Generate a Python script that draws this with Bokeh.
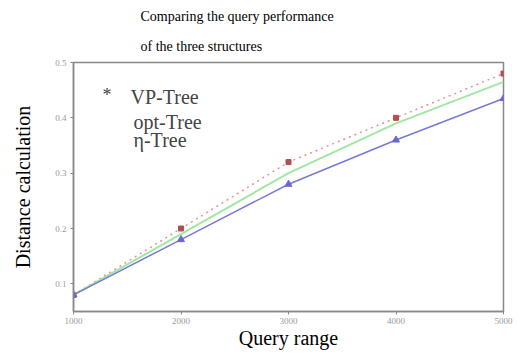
from bokeh.plotting import figure
from bokeh.models import Label, Range1d, FixedTicker, Title
from bokeh.embed import file_html
from bokeh.resources import INLINE

query_range = [1000, 2000, 3000, 4000, 5000]
vp_tree = [0.08, 0.20, 0.32, 0.40, 0.48]
opt_tree = [0.08, 0.19, 0.30, 0.39, 0.465]
eta_tree = [0.08, 0.18, 0.28, 0.36, 0.435]
x_ticks = [1000, 2000, 3000, 4000, 5000]
y_ticks = [0.1, 0.2, 0.3, 0.4, 0.5]
legend_labels = ["VP-Tree", "opt-Tree", "η-Tree"]
title_lines = ["Comparing the query performance", "of the three structures"]
title_standoffs = [9, 17]

SERIF = "Liberation Serif"

p = figure(width=519, height=353, output_backend="svg", toolbar_location=None,
           x_range=Range1d(1000, 5000), y_range=Range1d(0.05, 0.5),
           min_border_left=73, min_border_right=16, min_border_top=62, min_border_bottom=42)

# title lines: first added sits closest to the frame
for line, so in reversed(list(zip(title_lines, title_standoffs))):
    p.add_layout(Title(text=line, text_font=SERIF, text_font_size="14px",
                       text_font_style="normal", text_color="black",
                       align="left", offset=67, standoff=so), "above")

p.background_fill_color = "white"
p.border_fill_color = "white"
p.outline_line_color = "#888888"
p.outline_line_width = 1.5
p.grid.visible = False

for ax in (p.xaxis[0], p.yaxis[0]):
    ax.axis_line_color = "#888888"
    ax.axis_line_width = 1.5
    ax.major_tick_line_color = "#888888"
    ax.major_tick_out = 3
    ax.major_tick_in = 0
    ax.minor_tick_line_color = None
    ax.major_label_text_font = SERIF
    ax.major_label_text_font_size = "9px"
    ax.major_label_text_color = "#999999"
    ax.axis_label_text_font = SERIF
    ax.axis_label_text_font_size = "20px"
    ax.axis_label_text_font_style = "normal"
    ax.axis_label_text_color = "black"

p.xaxis[0].ticker = FixedTicker(ticks=x_ticks)
p.yaxis[0].ticker = FixedTicker(ticks=y_ticks)
p.xaxis[0].major_label_standoff = 3
p.yaxis[0].major_label_standoff = 4
p.xaxis[0].axis_label = "Query range"
p.yaxis[0].axis_label = "Distance calculation"
p.xaxis[0].axis_label_standoff = 0
p.yaxis[0].axis_label_standoff = 18

p.line(query_range, vp_tree, line_color="#e89090", line_width=1.5, line_dash="2 4")
p.scatter(query_range, vp_tree, marker="square", size=5, fill_color="#b05050", line_color="#b05050")
p.line(query_range, opt_tree, line_color="#a0e8a0", line_width=2)
p.line(query_range, eta_tree, line_color="#7878d8", line_width=1.5)
p.scatter(query_range, eta_tree, marker="triangle", size=7, fill_color="#6868d0", line_color="#6868d0")

# legend texts: screen units, x from frame left, y up from frame bottom
p.add_layout(Label(x=29, y=227, x_units="screen", y_units="screen", text="*",
                   text_font=SERIF, text_font_size="18px", text_baseline="top"))
legend_tops = [226, 201, 183]
legend_xs = [57, 60, 60]
for t, xx, yy in zip(legend_labels, legend_xs, legend_tops):
    p.add_layout(Label(x=xx, y=yy, x_units="screen", y_units="screen",
                       text=t, text_font=SERIF, text_font_size="20px", text_baseline="top"))

open("out.html", "w").write(file_html(p, INLINE))
